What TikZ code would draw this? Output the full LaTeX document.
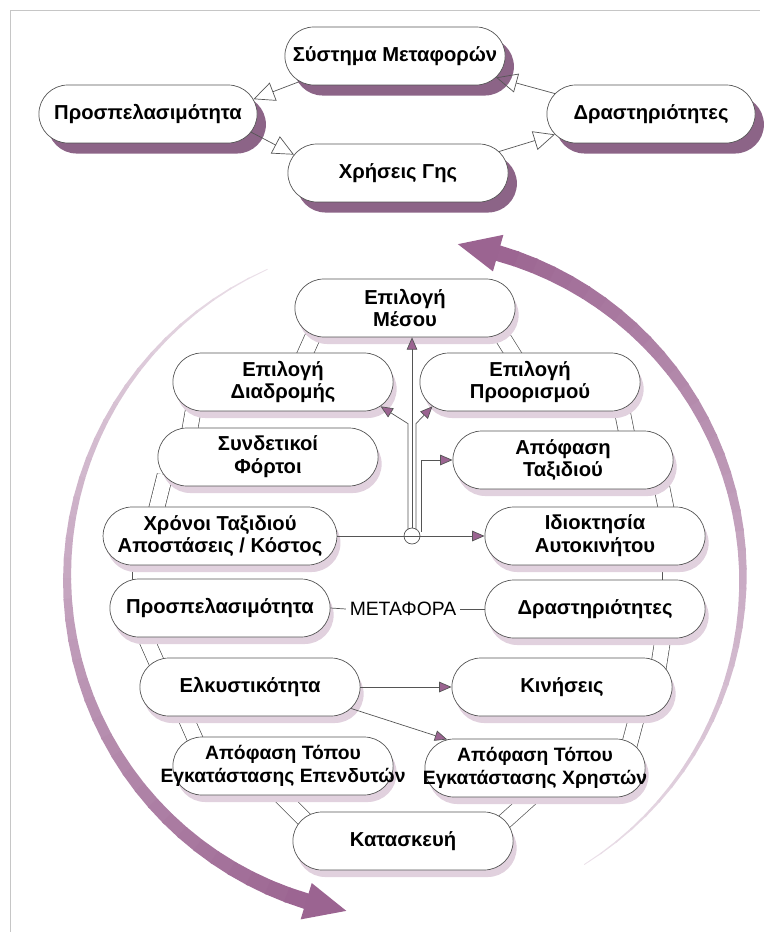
\documentclass[tikz,border=0pt]{standalone}
\usepackage{fontspec}
\setmainfont{Liberation Sans}
\usetikzlibrary{shapes.misc,shadows,arrows.meta,backgrounds,calc}
\definecolor{mauve}{RGB}{155,100,145}
\definecolor{varjo}{RGB}{140,100,135}
\definecolor{viiva}{RGB}{85,85,85}
\begin{document}
\begin{tikzpicture}[x=0.02cm,y=-0.02cm,
  pill/.style={draw=viiva,fill=white,rounded rectangle,minimum width=4.64cm,minimum height=1.16cm,align=center,font=\bfseries\fontsize{11.5}{13}\selectfont},
  toppill/.style={pill,drop shadow={shadow xshift=5pt,shadow yshift=-6pt,fill=varjo,opacity=1}},
  lowpill/.style={pill,drop shadow={shadow xshift=2pt,shadow yshift=-4pt,fill=mauve!30,opacity=1}},
  longpill/.style={lowpill,font=\bfseries\fontsize{11}{13}\selectfont},
  openarr/.style={draw=viiva,-{Triangle[open,length=12pt,width=11pt]}},
  arr/.style={draw=viiva,-{Triangle[length=7pt,width=6pt,fill=mauve]}},
  link/.style={draw=viiva},
  neck/.style={draw=viiva,double=white,double distance=0.3cm}]
\useasboundingbox (0,0) rectangle (782,932);
\newcommand\swoosh[2]{
\foreach \i in {0,...,39}{
  \pgfmathsetmacro\angA{#1+\i*#2}
  \pgfmathsetmacro\angB{\angA+#2+0.3}
  \pgfmathsetmacro\wdA{0.4+\i*0.19}
  \pgfmathsetmacro\wdB{\wdA+0.19}
  \pgfmathtruncatemacro\pct{20+\i*2.05}
  \fill[mauve!\pct!white] ({405+(338+\wdA)*cos(\angA)},{578-(338+\wdA)*sin(\angA)}) -- ({405+(338+\wdB)*cos(\angB)},{578-(338+\wdB)*sin(\angB)}) -- ({405+(338-\wdB)*cos(\angB)},{578-(338-\wdB)*sin(\angB)}) -- ({405+(338-\wdA)*cos(\angA)},{578-(338-\wdA)*sin(\angA)}) -- cycle;
}
\pgfmathsetmacro\angA{#1+40*#2}
\fill[mauve] ({405+357*cos(\angA)},{578-357*sin(\angA)}) -- ({405+338*cos(\angA+7)},{578-338*sin(\angA+7)}) -- ({405+319*cos(\angA)},{578-319*sin(\angA)}) -- cycle;
}
\draw[gray!45] (10,932) -- (10,10) -- (760,10);
\swoosh{-58}{3.3}
\swoosh{114}{3.475}

\node[toppill] (sys) at (395,56) {Σύστημα Μεταφορών};
\node[toppill,minimum width=4.6cm] (pros) at (148,114) {Προσπελασιμότητα};
\node[toppill] (chr) at (398,173) {Χρήσεις Γης};
\node[toppill,minimum width=4.4cm] (dra) at (651,114) {Δραστηριότητες};
\path[openarr] (sys.195) -- (pros.8);
\path[openarr] (pros.-10) -- (chr.170);
\path[openarr] (chr.12) -- (dra.192);
\path[openarr] (dra.168) -- (sys.-12);

\node[lowpill] (mesou) at (405,308) {Επιλογή\\Μέσου};
\node[lowpill] (diadr) at (283,382) {Επιλογή\\Διαδρομής};
\node[lowpill] (proor) at (530,382) {Επιλογή\\Προορισμού};
\node[lowpill] (syndet) at (268,457) {Συνδετικοί\\Φόρτοι};
\node[lowpill] (apofasi) at (563,460) {Απόφαση\\Ταξιδιού};
\node[lowpill] (xronoi) at (220,536) {Χρόνοι Ταξιδιού\\Αποστάσεις / Κόστος};
\node[lowpill] (idiokt) at (595,536) {Ιδιοκτησία\\Αυτοκινήτου};
\node[lowpill] (prosp2) at (220,608) {Προσπελασιμότητα};
\node[lowpill] (drast2) at (595,609) {Δραστηριότητες};
\node[lowpill] (elkys) at (250,687) {Ελκυστικότητα};
\node[lowpill] (kiniseis) at (562,687) {Κινήσεις};
\node[longpill] (ependyt) at (283,766) {Απόφαση Τόπου\\\makebox[3.2cm]{Εγκατάστασης Επενδυτών}};
\node[longpill] (xriston) at (535,768) {Απόφαση Τόπου\\\makebox[3.2cm]{Εγκατάστασης Χρηστών}};
\node[lowpill] (kataskevi) at (403,841) {Κατασκευή};
\node[font=\fontsize{11}{13}\selectfont,inner sep=2pt] (metafora) at (403,609) {ΜΕΤΑΦΟΡΑ};

\begin{scope}[on background layer]
\foreach \xa/\ya/\xb/\yb in {318/325/300/365, 195/400/188/440, 165/475/155/515, 140/555/140/595, 140/625/160/670, 180/705/200/750, 270/785/315/830, 495/325/520/365, 620/400/628/440, 660/478/668/518, 670/555/670/595, 665/625/658/670, 640/705/628/750, 545/785/495/830}
  \draw[neck] (\xa,\ya) -- (\xb,\yb);
\end{scope}

\path[arr] (xronoi.east) -- (idiokt.west);
\node[draw=viiva,circle,inner sep=0pt,minimum size=0.32cm] (j) at (412,536) {};
\path[arr] (j.north) -- (j.north |- mesou.south);
\path[arr] ($(j.north)+(-4,2)$) -- ++(0,-106) -- (diadr.-14);
\path[arr] ($(j.north)+(4,2)$) -- ++(0,-106) -- (proor.194);
\path[arr] ($(j.north)+(9,4)$) |- (apofasi.west);
\path[link] (prosp2.east) -- (metafora.west);
\path[link] (metafora.east) -- (drast2.west);
\path[arr] (elkys.east) -- (kiniseis.west);
\path[arr] (elkys.-12) -- (xriston.162);
\end{tikzpicture}
\end{document}
